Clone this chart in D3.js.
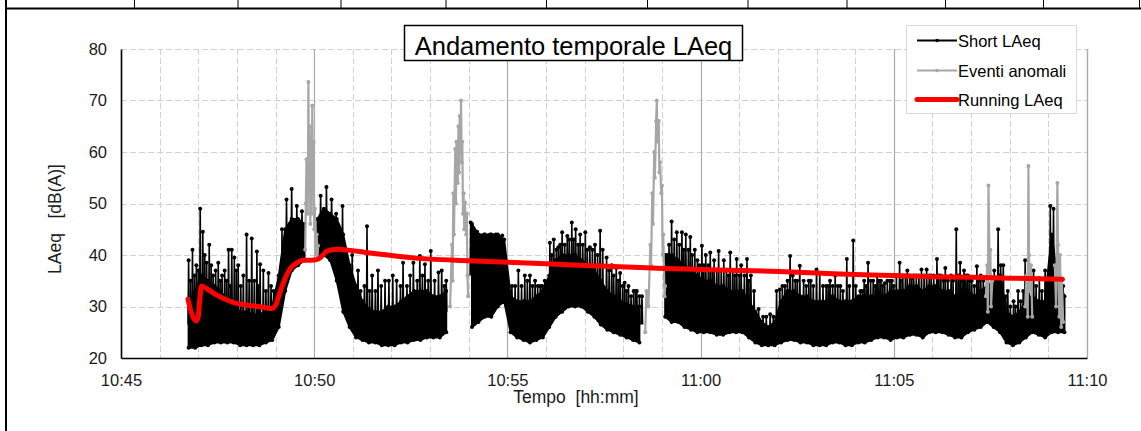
<!DOCTYPE html>
<html>
<head>
<meta charset="utf-8">
<script src="https://cdn.jsdelivr.net/npm/d3@7"></script>
<style>
  body { margin: 0; background: #fff; }
  svg { display: block; font-family: "Liberation Sans", Arial, sans-serif; }
</style>
</head>
<body>
<svg id="chart" width="1141" height="431"></svg>
<script>
// all times are seconds after 10:45:00

// Short LAeq, dense part read as a low/high envelope every 10 s (null = anomalous event)
var bandStart = 105, bandStep = 10;
var bandLow = [22, 22, 22.5, 22.5, 23, 23, 23, 23, 22.5, 22.5, 22.5, 22.5, 23, 23.5, 26, 33, 37, 38, 39, null, 40,
  40, 39, 35, 29, 26, 24, 23.5, 23, 23, 22.5, 22.5, 22.5, 23, 23, 23.5, 23.5, 24, 24, 24, 25, null, null, null,
  26, 27, 28, 28, 30, 31, 25, 24, 23.5, 23, 23.5, 24, 26, 28, 29, 30, 30, 30, 29, 28, 26.5, 25.5, 25, 24.5, 24,
  23.5, 23, null, null, null, 28, 27, 27, 26, 25.5, 25, 25, 25, 24.5, 24.5, 25, 25, 25, 24, 23, 22.5, 22.5, 22.5,
  23, 23.5, 23.5, 23, 23, 22.5, 22.5, 22.5, 23, 23, 22.5, 22.5, 23, 23, 23.5, 24, 24, 23.5, 24, 24, 24.5, 24.5,
  24, 25, 25, 25, 24.5, 24, 24, 25, 25.5, 26, 27, 26, 25, 23, 22.5, 23, 24, 25, 24.5, 24, 25, 25, 25];
var bandHigh = [31, 33, 36, 35, 34, 33, 31, 30, 29, 29, 28.5, 28.5, 29, 30, 36, 45, 47, 47, 46, null, 47,
  49, 48, 47, 44, 38, 34, 31, 29.5, 29, 29, 30, 30, 31, 32, 33, 33, 33, 32, 32, 33, null, null, null,
  46, 44, 44, 44, 44, 43, 32, 31, 31, 31, 32, 33, 36, 39, 40, 40, 40, 39, 38, 37, 35, 33, 32, 31, 30.5,
  30, 30, null, null, null, 40, 40, 39, 38, 37, 36, 35, 35, 34, 34, 33, 33, 33, 31, 29, 27, 26, 27,
  31, 33, 33, 32, 32, 31, 31, 31, 32, 31, 31, 31, 32, 32, 32, 32, 32, 33, 33, 33, 34, 34,
  33, 34, 34, 33, 33, 32, 33, 33, 32, 33, 34, 35, 36, 29, 28, 29, 31, 32, 31, 31, 44, 35, 32];

// Short LAeq, tall isolated peaks
var spikeTime = [105, 111, 117, 123, 127, 133, 137, 143, 151, 157, 167, 172, 176, 182, 195, 203, 211, 216, 221, 229, 233,
  250, 257, 265, 273, 281, 310, 319, 327, 334, 344, 359, 368, 382, 390, 399,
  410, 422, 438, 449, 454, 464, 472, 481, 493, 498, 505,
  543, 553, 564, 573, 582, 592,
  607, 617, 627, 635, 643, 651, 658,
  666, 672, 679, 685, 693, 700, 706, 713, 721, 728, 736, 744, 754, 762, 769, 775, 782, 788, 796, 801, 809,
  848, 855, 863, 871, 877, 884, 891, 902, 908, 915, 921, 928, 936, 946, 956, 963, 972, 978, 990, 997, 1008,
  1018, 1023, 1031, 1039, 1047, 1054,
  1064, 1071, 1080, 1085, 1095, 1101, 1109, 1117, 1127, 1137, 1148, 1154, 1160, 1168, 1174, 1180, 1186, 1194,
  1200, 1209, 1214, 1221, 1228, 1235, 1243, 1251, 1258, 1267, 1273, 1280, 1289, 1297, 1303, 1309, 1315, 1321,
  1329, 1335, 1362, 1370, 1377, 1386, 1393, 1404, 1417, 1426, 1435, 1443, 1448, 1460];
var spikePeak = [39, 41, 38, 49, 44.5, 38.5, 42, 36, 38.5, 36, 41, 41, 39.5, 38, 44, 43.2, 40.7, 38.2, 37, 36.5, 34,
  45, 50.8, 52.8, 49.5, 48.5, 51.5, 53.2, 50.8, 48, 49.5, 40, 37, 45.6, 36, 37,
  35, 36, 38.5, 36, 38.5, 39.8, 38.2, 40.8, 36.6, 37, 35,
  46.3, 44.5, 44, 44, 44, 43.8,
  34, 37, 36, 36, 35, 34, 35,
  42.4, 43, 41.5, 44.4, 43.7, 46.3, 45, 44, 44.4, 41.5, 42, 44.7, 39.5, 38, 37.5, 36.5, 34.6, 34, 33, 33, 32,
  40, 46.5, 44.4, 44.4, 44, 43.5, 41, 41.8, 40, 40.5, 39, 40.8, 39, 40.5, 39.2, 38, 39.2, 36, 29.5, 28, 28.5,
  33, 33.3, 34, 39.8, 35, 37.9,
  34, 35, 37.2, 36.5, 34, 35, 36, 34, 39.2, 42.8, 33, 35, 38.5, 35, 36, 35, 34.5, 35,
  34, 38.5, 36, 37, 35.5, 36, 37.2, 37.2, 36, 39.2, 36, 37.5, 36, 45, 38.5, 37, 36, 35,
  37.8, 36, 45, 38, 33, 31, 33, 39, 37, 35.5, 37, 49.5, 49, 34];

// Short LAeq, small ripples on top of the dense part
var rippleTime = [108, 114, 120, 130, 140, 147, 154, 161, 164, 170, 179, 186, 190, 199, 207, 213, 225, 237,
  372, 378, 386, 395, 404, 416, 428, 434, 444, 460, 468, 477, 487, 502,
  612, 622, 631, 639, 647, 654,
  669, 676, 682, 689, 696, 703, 710, 717, 724, 732, 740, 748, 758, 765, 772, 779, 785, 792, 799, 805,
  851, 859, 867, 874, 881, 887, 895, 898, 905, 912, 918, 925, 932, 940, 943, 950, 953, 960, 968, 975, 983,
  1002, 1013, 1027, 1035, 1043, 1050,
  1060, 1068, 1075, 1090, 1098, 1105, 1113, 1121, 1131, 1141, 1151, 1157, 1164, 1171, 1177, 1183, 1190, 1197,
  1204, 1211, 1218, 1225, 1231, 1239, 1247, 1255, 1262, 1270, 1277, 1284, 1292, 1300, 1306, 1312, 1318, 1325,
  1332, 1339, 1356, 1366, 1374, 1381, 1389, 1397, 1401, 1410, 1421, 1430, 1439, 1452, 1457, 1463];
var rippleLevel = [35, 36, 37, 40, 38, 37, 35, 37, 35, 34, 37, 34, 36, 35, 35, 34, 33, 33,
  33, 34, 33, 33, 34, 35, 35, 34, 34, 35, 36, 35, 35, 34,
  34, 34, 35, 34, 34, 34,
  40, 41, 42, 42, 43, 43, 42, 42, 41, 41, 40, 41, 37, 36, 35, 34, 33, 32, 33, 32,
  42, 43, 42, 41, 41, 40, 39, 38, 38, 38, 37, 37, 37, 37, 36, 37, 36, 36, 36, 35, 33,
  28, 28, 34, 35, 36, 35,
  35, 35, 34, 34, 34, 34, 34, 33, 34, 34, 33, 34, 35, 34, 35, 34, 35, 35,
  36, 35, 36, 36, 36, 36, 36, 36, 36, 36, 35, 35, 35, 36, 35, 36, 35, 34,
  35, 35, 37, 38, 32, 30, 30, 31, 33, 34, 34, 33, 35, 37, 36, 34];

// Eventi anomali, one list per event
var eventTime = [
  [286, 287, 288, 290, 291, 292, 293, 294, 295, 296, 297, 298, 299, 300, 301, 303, 304, 305, 306],
  [511, 514, 515, 516, 517, 519, 520, 521, 523, 524, 525, 526, 527, 528, 529, 530, 531, 532, 533, 534, 536, 537, 538, 539],
  [814, 816, 819, 822, 823, 825, 826, 828, 829, 831, 832, 833, 835, 836, 837, 839, 840, 841, 842, 844, 845],
  [1343, 1345, 1346, 1347, 1349, 1350, 1351, 1353],
  [1404, 1406, 1408, 1409, 1410, 1411, 1413, 1415],
  [1450, 1452, 1454, 1455, 1457, 1458, 1460, 1461, 1463]
];
var eventLevel = [
  [41, 50, 58.6, 48, 73.6, 52, 65, 46, 62, 48, 69, 52, 61.9, 45, 49, 40, 44, 39.2, 41.8],
  [30, 42, 35, 52, 44, 60.6, 50, 62, 54, 65, 56, 67, 60, 70, 58, 62, 48, 52, 45, 50.2, 44, 48, 36, 32],
  [25, 33, 30, 42, 38, 52, 46, 60, 55, 66, 70, 62, 66, 56, 58, 52, 53.5, 40, 44, 32, 34],
  [32, 38, 29, 53.5, 36, 41, 30, 35],
  [30, 36, 28, 57.3, 40, 33, 38, 28],
  [38, 30, 54, 42, 28, 40, 26, 35, 27]
];

// Running LAeq
var runTime = [104, 110, 117, 120, 122, 125, 135, 149, 160, 174, 200, 220, 234, 240, 245, 252, 262, 273, 283, 295,
  304, 312, 319, 335, 356, 380, 407, 433, 480, 540, 600, 660, 713, 795, 842, 900, 960, 1023, 1080, 1140, 1200,
  1260, 1320, 1380, 1462];
var runLAeq = [31.4, 28.5, 27.2, 28, 31, 34, 33.3, 32.2, 31.5, 30.8, 30.2, 29.9, 29.6, 30.2, 32, 34.6, 37.2, 38.5, 39, 39,
  39.1, 39.8, 40.7, 41.1, 40.9, 40.5, 40.1, 39.7, 39.2, 38.9, 38.6, 38.3, 38, 37.6, 37.4, 37.2, 37, 36.8, 36.5, 36.2, 36,
  35.8, 35.7, 35.5, 35.3];

var yTicks = [20, 30, 40, 50, 60, 70, 80];
var seriesNames = ["Short LAeq", "Eventi anomali", "Running LAeq"];
var seriesColors = ["#000", "#a6a6a6", "#ff0000"];

var svg = d3.select('#chart');
var t0 = new Date(2000, 0, 1, 10, 45, 0);
function toDate(s) { return new Date(t0.getTime() + s * 1000); }

var x = d3.scaleTime().domain([toDate(0), toDate(1500)]).range([121, 1087]);
var y = d3.scaleLinear().domain([20, 80]).range([358, 49]);

// page frame (table cell borders)
var frame = svg.append('g').attr('stroke', '#000');
frame.append('line').attr('x1', 6).attr('x2', 6).attr('y1', 0).attr('y2', 431).attr('stroke-width', 2);
frame.append('line').attr('x1', 5).attr('x2', 1141).attr('y1', 8.5).attr('y2', 8.5).attr('stroke-width', 2);
[134.5, 238, 341, 446, 546.5, 647.5, 748, 847, 945.5, 1043.5, 1139.5].forEach(function(cx) {
  frame.append('line').attr('x1', cx).attr('x2', cx).attr('y1', 0).attr('y2', 8).attr('stroke-width', 1);
});

// grid
var minutes = x.ticks(d3.timeMinute.every(1));
var grid = svg.append('g');
grid.selectAll('.vminor').data(minutes.filter(function(d) { return d.getMinutes() % 5 !== 0; }))
  .enter().append('line')
  .attr('x1', function(d) { return Math.round(x(d)) + 0.5; })
  .attr('x2', function(d) { return Math.round(x(d)) + 0.5; })
  .attr('y1', y(80)).attr('y2', y(20))
  .attr('stroke', '#d0d0d0').attr('stroke-dasharray', '6,3');
grid.selectAll('.hgrid').data(yTicks.slice(1))
  .enter().append('line')
  .attr('x1', x.range()[0]).attr('x2', x.range()[1])
  .attr('y1', function(d) { return Math.round(y(d)) + 0.5; })
  .attr('y2', function(d) { return Math.round(y(d)) + 0.5; })
  .attr('stroke', '#d0d0d0').attr('stroke-dasharray', '6,3');
grid.selectAll('.vmajor').data(minutes.filter(function(d) { return d.getMinutes() % 5 === 0 && +d !== +t0; }))
  .enter().append('line')
  .attr('x1', function(d) { return Math.round(x(d)) + 0.5; })
  .attr('x2', function(d) { return Math.round(x(d)) + 0.5; })
  .attr('y1', y(80)).attr('y2', y(20))
  .attr('stroke', '#aaaaaa').attr('stroke-width', 1.2);

// Short LAeq
var band = bandLow.map(function(lo, i) {
  return { t: bandStart + i * bandStep, lo: lo, hi: bandHigh[i] };
});
var area = d3.area()
  .defined(function(d) { return d.lo != null; })
  .x(function(d) { return x(toDate(d.t)); })
  .y0(function(d) { return y(d.lo); })
  .y1(function(d) { return y(d.hi); });
var short = svg.append('g');
short.append('path').datum(band).attr('d', area)
  .attr('fill', '#000').attr('stroke', '#000').attr('stroke-width', 2).attr('stroke-linejoin', 'round');

function baseAt(t) {
  var best = null, dist = Infinity;
  band.forEach(function(d) {
    if (d.lo != null && Math.abs(d.t - t) < dist) { dist = Math.abs(d.t - t); best = d; }
  });
  return (best.lo + best.hi) / 2;
}
var peaks = spikeTime.map(function(t, i) { return { t: t, v: spikePeak[i] }; })
  .concat(rippleTime.map(function(t, i) { return { t: t, v: rippleLevel[i] }; }));
peaks.forEach(function(d) { d.b = baseAt(d.t); });
short.selectAll('.spike').data(peaks).enter().append('path')
  .attr('d', function(d) {
    return 'M' + x(toDate(d.t - 0.9)) + ',' + y(d.b) + 'L' + x(toDate(d.t)) + ',' + y(d.v) +
      'L' + x(toDate(d.t + 0.9)) + ',' + y(d.b);
  })
  .attr('fill', 'none').attr('stroke', '#000').attr('stroke-width', 1.6);
var dots = [];
band.forEach(function(d) { if (d.lo != null) { dots.push({ t: d.t, v: d.lo }); dots.push({ t: d.t, v: d.hi }); } });
peaks.forEach(function(d) { dots.push({ t: d.t, v: d.v }); });
short.selectAll('circle').data(dots).enter().append('circle')
  .attr('cx', function(d) { return x(toDate(d.t)); })
  .attr('cy', function(d) { return y(d.v); })
  .attr('r', 2).attr('fill', '#000');

// Eventi anomali
var line = d3.line()
  .x(function(d) { return x(toDate(d.t)); })
  .y(function(d) { return y(d.v); });
var events = svg.append('g');
eventTime.forEach(function(ts, k) {
  var pts = ts.map(function(t, i) { return { t: t, v: eventLevel[k][i] }; });
  events.append('path').datum(pts).attr('d', line)
    .attr('fill', 'none').attr('stroke', seriesColors[1]).attr('stroke-width', 2.2).attr('stroke-linejoin', 'round');
  events.selectAll(null).data(pts).enter().append('circle')
    .attr('cx', function(d) { return x(toDate(d.t)); })
    .attr('cy', function(d) { return y(d.v); })
    .attr('r', 2).attr('fill', seriesColors[1]);
});

// Running LAeq
var running = runTime.map(function(t, i) { return { t: t, v: runLAeq[i] }; });
svg.append('path').datum(running)
  .attr('d', d3.line().curve(d3.curveMonotoneX)
    .x(function(d) { return x(toDate(d.t)); })
    .y(function(d) { return y(d.v); }))
  .attr('fill', 'none').attr('stroke', seriesColors[2]).attr('stroke-width', 5)
  .attr('stroke-linecap', 'round').attr('stroke-linejoin', 'round');

// right border of plot area
svg.append('line').attr('x1', 1087.5).attr('x2', 1087.5).attr('y1', y(80)).attr('y2', y(20))
  .attr('stroke', '#aaaaaa').attr('stroke-width', 1.2);

// axes
var yAxis = svg.append('g').attr('transform', 'translate(121,0)')
  .call(d3.axisLeft(y).tickValues(yTicks).tickSize(0).tickSizeOuter(0).tickPadding(14));
var xAxis = svg.append('g').attr('transform', 'translate(0,358)')
  .call(d3.axisBottom(x).ticks(d3.timeMinute.every(5)).tickFormat(d3.timeFormat('%H:%M'))
    .tickSize(0).tickSizeOuter(0).tickPadding(16));
[yAxis, xAxis].forEach(function(g) {
  g.attr('font-family', '"Liberation Sans", Arial, sans-serif').attr('font-size', 16.5);
  g.select('.domain').attr('stroke', '#000').attr('stroke-width', 1.6);
  g.selectAll('text').attr('fill', '#1a1a1a');
});

svg.append('text').attr('x', 576).attr('y', 403).attr('text-anchor', 'middle')
  .attr('font-size', 17.5).attr('fill', '#1a1a1a').style('white-space', 'pre')
  .text('Tempo  [hh:mm]');
svg.append('text').attr('transform', 'translate(61,219) rotate(-90)').attr('text-anchor', 'middle')
  .attr('font-size', 17.5).attr('fill', '#1a1a1a').style('white-space', 'pre')
  .text('LAeq   [dB(A)]');

// title
svg.append('rect').attr('x', 404.5).attr('y', 25.5).attr('width', 338).attr('height', 35)
  .attr('fill', '#fff').attr('stroke', '#000').attr('stroke-width', 1.5);
svg.append('text').attr('x', 573.5).attr('y', 55).attr('text-anchor', 'middle')
  .attr('font-size', 25.5).attr('fill', '#000').text('Andamento temporale LAeq');

// legend
var legend = svg.append('g');
legend.append('rect').attr('x', 906.5).attr('y', 25.5).attr('width', 170).attr('height', 88)
  .attr('fill', '#fff').attr('stroke', '#d9d9d9');
var rows = legend.selectAll('.row').data(seriesNames).enter().append('g')
  .attr('transform', function(d, i) { return 'translate(0,' + [40.5, 70.5, 99.5][i] + ')'; });
rows.append('line').attr('x1', 917).attr('x2', 957).attr('y1', 0).attr('y2', 0)
  .attr('stroke', function(d, i) { return seriesColors[i]; })
  .attr('stroke-width', function(d, i) { return i === 2 ? 5 : 2; })
  .attr('stroke-linecap', function(d, i) { return i === 2 ? 'round' : 'butt'; });
rows.filter(function(d, i) { return i < 2; }).append('circle')
  .attr('cx', 937).attr('cy', 0).attr('r', 1.8)
  .attr('fill', function(d, i) { return seriesColors[i]; });
rows.append('text').attr('x', 958).attr('y', 6).attr('font-size', 16.5).attr('fill', '#000')
  .text(function(d) { return d; });
</script>
</body>
</html>
